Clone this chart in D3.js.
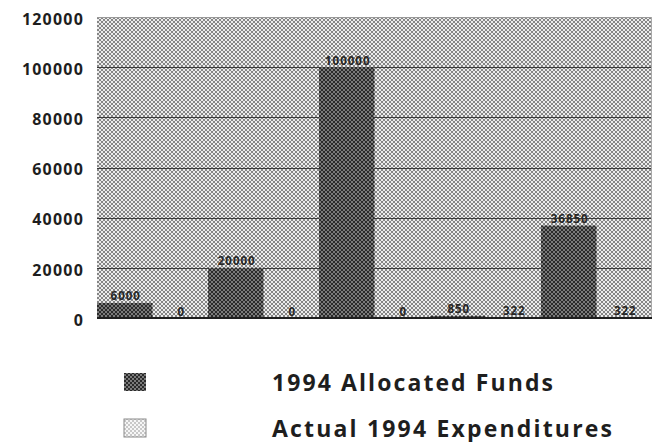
<!DOCTYPE html>
<html>
<head>
<meta charset="utf-8">
<script src="https://cdn.jsdelivr.net/npm/d3@7"></script>
<style>
  html, body { margin: 0; padding: 0; background: #fff; }
  svg { display: block; }
</style>
</head>
<body>
<script>
// ---- data ----
const categories = ["1", "2", "3", "4", "5"];
const seriesNames = ["1994 Allocated Funds", "Actual 1994 Expenditures"];
const allocated = [6000, 20000, 100000, 850, 36850];
const actual = [0, 0, 0, 322, 322];
const yTicks = [0, 20000, 40000, 60000, 80000, 100000, 120000];

const W = 658, H = 442;
const margin = { left: 97, right: 6, top: 17, bottom: 124 };
const plotW = W - margin.left - margin.right;
const plotH = H - margin.top - margin.bottom;

const svg = d3.select("body").append("svg").attr("width", W).attr("height", H);
const defs = svg.append("defs");

function checker(id, light, dark) {
  const p = defs.append("pattern").attr("id", id).attr("patternUnits", "userSpaceOnUse")
    .attr("width", 4).attr("height", 4);
  p.append("rect").attr("width", 4).attr("height", 4).attr("fill", light);
  p.append("rect").attr("x", 0).attr("y", 0).attr("width", 2).attr("height", 2).attr("fill", dark);
  p.append("rect").attr("x", 2).attr("y", 2).attr("width", 2).attr("height", 2).attr("fill", dark);
}
checker("bgPat", "#ececec", "#858585");
checker("darkPat", "#7a7a7a", "#2a2a2a");
checker("lightPat", "#f6f6f6", "#c8c8c8");

// flat list of bars: each category gives allocated then actual
const bars = [];
categories.forEach((c, i) => {
  bars.push({ key: c + "-a", series: 0, value: allocated[i] });
  bars.push({ key: c + "-b", series: 1, value: actual[i] });
});

const x = d3.scaleBand().domain(bars.map(d => d.key)).range([0, plotW]).padding(0);
const y = d3.scaleLinear().domain([0, 120000]).range([plotH, 0]);

const g = svg.append("g").attr("transform", `translate(${margin.left},${margin.top})`);

// plot background
g.append("rect").attr("x", 0).attr("y", 0).attr("width", plotW).attr("height", plotH)
  .attr("fill", "url(#bgPat)");

// gridlines
g.append("g").selectAll("line").data(yTicks.filter(t => t > 0 && t < 120000)).join("line")
  .attr("x1", 0).attr("x2", plotW)
  .attr("y1", d => Math.round(y(d)) + 0.5).attr("y2", d => Math.round(y(d)) + 0.5)
  .attr("stroke", "#3a3a3a").attr("stroke-width", 1);

// top border
g.append("line").attr("x1", 0).attr("x2", plotW).attr("y1", 0.5).attr("y2", 0.5)
  .attr("stroke", "#9a9a9a").attr("stroke-width", 1);
// right border
g.append("line").attr("x1", plotW - 0.5).attr("x2", plotW - 0.5).attr("y1", 0).attr("y2", plotH)
  .attr("stroke", "#aaaaaa").attr("stroke-width", 1);

// bars
g.append("g").selectAll("rect").data(bars).join("rect")
  .attr("x", d => x(d.key))
  .attr("y", d => y(d.value))
  .attr("width", x.bandwidth())
  .attr("height", d => plotH - y(d.value))
  .attr("fill", d => d.series === 0 ? "url(#darkPat)" : "url(#lightPat)");

// baseline
g.append("line").attr("x1", 0).attr("x2", plotW).attr("y1", plotH).attr("y2", plotH)
  .attr("stroke", "#1e1e1e").attr("stroke-width", 2);

// value labels
g.append("g").selectAll("text").data(bars).join("text")
  .attr("x", d => x(d.key) + x.bandwidth() / 2 + 1)
  .attr("y", d => y(d.value) - 2.5)
  .attr("text-anchor", "middle")
  .attr("font-family", "'Open Sans', 'DejaVu Sans', sans-serif")
  .attr("font-weight", "bold")
  .attr("font-size", 11.5)
  .attr("letter-spacing", 1)
  .attr("fill", "#262626")
  .text(d => d.value);

// y axis (labels only)
const yAxis = d3.axisLeft(y).tickValues(yTicks).tickSize(0).tickPadding(0).tickFormat(d3.format("d"));
const ya = svg.append("g").attr("transform", `translate(${margin.left - 13},${margin.top})`).call(yAxis);
ya.select(".domain").remove();
ya.selectAll("text")
  .attr("font-family", "'Open Sans', 'DejaVu Sans', sans-serif")
  .attr("font-weight", "bold")
  .attr("font-size", 16)
  .attr("letter-spacing", 1.2)
  .attr("fill", "#1e1e1e")
  .attr("dy", "0.45em");

// legend
const legend = svg.append("g");
const legendY = [382, 428];
const legendPat = ["url(#darkPat)", "url(#lightPat)"];
seriesNames.forEach((name, i) => {
  legend.append("rect")
    .attr("x", 124).attr("y", legendY[i] - 9).attr("width", 22).attr("height", 18)
    .attr("fill", legendPat[i])
    .attr("stroke", i === 1 ? "#8a8a8a" : "none").attr("stroke-width", 1);
  legend.append("text")
    .attr("x", 272).attr("y", legendY[i] + 8.5)
    .attr("font-family", "'Open Sans', 'DejaVu Sans', sans-serif")
    .attr("font-weight", "bold")
    .attr("font-size", 23)
    .attr("fill", "#1e1e1e")
    .attr("textLength", i === 0 ? 281 : 340)
    .attr("lengthAdjust", "spacing")
    .text(name);
});
</script>
</body>
</html>
